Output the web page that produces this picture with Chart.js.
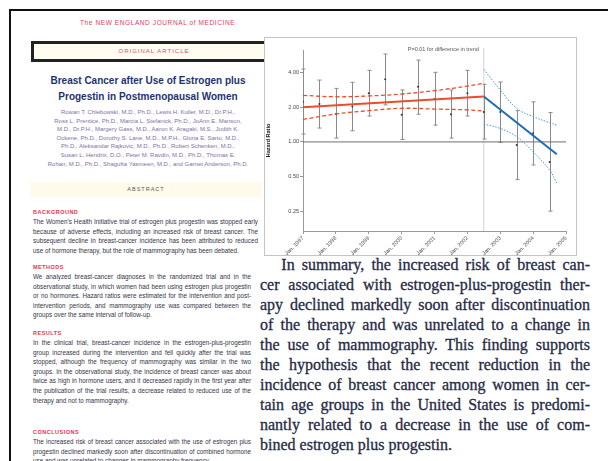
<!DOCTYPE html>
<html>
<head>
<meta charset="utf-8">
<script src="https://cdn.jsdelivr.net/npm/chart.js@4/dist/chart.umd.min.js"></script>
<style>
body { margin: 0; width: 608px; height: 461px; background: #fff; position: relative; overflow: hidden; font-family: "Liberation Sans", sans-serif; }
#page { position: absolute; left: 9px; top: 9px; width: 620px; height: 470px; border-left: 2px solid #111; border-top: 2px solid #111; }
#masthead { position: absolute; left: 80px; top: 19px; font-size: 6.5px; color: #e0405a; letter-spacing: 0.6px; }
#banner { position: absolute; left: 31px; top: 41px; width: 240px; height: 15px; border: 3px solid #222; background: #fffdf0; font-size: 6px; color: #e04a7a; text-align: center; line-height: 15px; letter-spacing: 1px; }
#title { position: absolute; left: 33px; top: 73px; width: 230px; text-align: center; font-size: 10px; font-weight: bold; color: #1d3370; line-height: 16px; }
#authors { position: absolute; left: 33px; top: 108px; width: 230px; text-align: center; font-size: 6px; color: #7f70a4; line-height: 8.6px; }
#band { position: absolute; left: 30px; top: 182px; width: 232px; height: 15px; background: #fffbea; font-size: 5.5px; color: #555; text-align: center; line-height: 15px; letter-spacing: 1px; }
.sec { position: absolute; left: 33px; width: 218px; font-size: 6.3px; line-height: 9.6px; color: #343446; text-align: justify; }
.sec b { display: block; color: #ee2f4a; font-size: 5.5px; letter-spacing: 0.5px; line-height: 9px; }
#frame { position: absolute; left: 264px; top: 37px; width: 311px; height: 217px; border: 1px solid #c4c4c4; background: #fff; }
#para { position: absolute; left: 260px; top: 255px; width: 330px; font-family: "Liberation Serif", serif; font-size: 16px; line-height: 20px; color: #262a44; -webkit-text-stroke: 0.3px #262a44; }
#para div { text-align: justify; text-align-last: justify; white-space: nowrap; }
#para div.last { text-align-last: left; }
</style>
</head>
<body>
<div id="page"></div>
<div id="masthead">The NEW ENGLAND JOURNAL of MEDICINE</div>
<div id="banner">ORIGINAL ARTICLE</div>
<div id="title">Breast Cancer after Use of Estrogen plus<br>Progestin in Postmenopausal Women</div>
<div id="authors">Rowan T. Chlebowski, M.D., Ph.D., Lewis H. Kuller, M.D., Dr.P.H.,<br>Ross L. Prentice, Ph.D., Marcia L. Stefanick, Ph.D., JoAnn E. Manson,<br>M.D., Dr.P.H., Margery Gass, M.D., Aaron K. Aragaki, M.S., Judith K.<br>Ockene, Ph.D., Dorothy S. Lane, M.D., M.P.H., Gloria E. Sarto, M.D.,<br>Ph.D., Aleksandar Rajkovic, M.D., Ph.D., Robert Schenken, M.D.,<br>Susan L. Hendrix, D.O., Peter M. Ravdin, M.D., Ph.D., Thomas E.<br>Rohan, M.D., Ph.D., Shagufta Yasmeen, M.D., and Garnet Anderson, Ph.D.</div>
<div id="band">ABSTRACT</div>
<div class="sec" style="top:208px;width:225px"><b>BACKGROUND</b>The Women's Health Initiative trial of estrogen plus progestin was stopped early because of adverse effects, including an increased risk of breast cancer. The subsequent decline in breast-cancer incidence has been attributed to reduced use of hormone therapy, but the role of mammography has been debated.</div>
<div class="sec" style="top:263px"><b>METHODS</b>We analyzed breast-cancer diagnoses in the randomized trial and in the observational study, in which women had been using estrogen plus progestin or no hormones. Hazard ratios were estimated for the intervention and post-intervention periods, and mammography use was compared between the groups over the same interval of follow-up.</div>
<div class="sec" style="top:329px"><b>RESULTS</b>In the clinical trial, breast-cancer incidence in the estrogen-plus-progestin group increased during the intervention and fell quickly after the trial was stopped, although the frequency of mammography was similar in the two groups. In the observational study, the incidence of breast cancer was about twice as high in hormone users, and it decreased rapidly in the first year after the publication of the trial results, a decrease related to reduced use of the therapy and not to mammography.</div>
<div class="sec" style="top:428px"><b>CONCLUSIONS</b>The increased risk of breast cancer associated with the use of estrogen plus progestin declined markedly soon after discontinuation of combined hormone use and was unrelated to changes in mammography frequency.</div>

<div id="frame"><canvas id="hr" width="311" height="217"></canvas></div>

<div id="para">
<div>&nbsp;&nbsp;&nbsp;In summary, the increased risk of breast can-</div>
<div>cer associated with estrogen-plus-progestin ther-</div>
<div>apy declined markedly soon after discontinuation</div>
<div>of the therapy and was unrelated to a change in</div>
<div>the use of mammography. This finding supports</div>
<div>the hypothesis that the recent reduction in the</div>
<div>incidence of breast cancer among women in cer-</div>
<div>tain age groups in the United States is predomi-</div>
<div>nantly related to a decrease in the use of com-</div>
<div class="last">bined estrogen plus progestin.</div>
</div>

<script>
// half-year time points with hazard ratio and 95% CI
const periods = [1997, 1997.5, 1998, 1998.5, 1999, 1999.5, 2000, 2000.5, 2001, 2001.5, 2002, 2002.5, 2003, 2003.5, 2004, 2004.5];
const hazard = [2.24, 2.14, 1.75, 2.03, 2.65, 3.50, 1.72, 3.02, 2.36, 1.74, 2.65, 1.82, 1.82, 0.94, 1.19, 0.67];
const ciLow = [1.17, 1.32, 1.08, 1.25, 1.68, 2.10, 1.05, 1.74, 1.40, 1.08, 1.68, 1.06, 0.99, 0.47, 0.63, 0.25];
const ciHigh = [4.30, 3.45, 2.92, 3.30, 4.19, 5.81, 2.83, 5.15, 4.03, 2.83, 4.19, 3.17, 3.32, 1.87, 2.23, 1.80];

// fitted trend before the trial stopped (red) and after (blue)
const preYears = [1997, 2002.5];
const preTrend = [2.00, 2.48];
const preBandYears = [1997, 1998, 1999, 2000, 2001, 2002, 2002.5];
const preUpper = [2.54, 2.47, 2.51, 2.61, 2.79, 3.06, 3.23];
const preLower = [1.57, 1.75, 1.87, 1.96, 1.93, 1.90, 1.86];
const postYears = [2002.5, 2004.72];
const postTrend = [2.48, 0.78];
const postBandYears = [2002.5, 2003, 2003.5, 2004, 2004.5, 2004.72];
const postUpper = [4.28, 2.83, 1.96, 1.66, 1.47, 1.40];
const postLower = [1.43, 1.31, 1.11, 0.82, 0.57, 0.44];

const yTicks = [0.25, 0.5, 1, 2, 4];
const stopYear = 2002.5;
const note = "P=0.01 for difference in trend";

const pts = (xs, ys) => xs.map((x, i) => ({ x: x, y: ys[i] }));

const RED = "#ef4a2a";
const BLUE = "#1c6cb4";
const LIGHTBLUE = "#3f9ad6";

// draws the error bars, the stop line and the note
const extras = {
    id: "extras",
    beforeDatasetsDraw(chart) {
        const ctx = chart.ctx;
        const xs = chart.scales.x, ys = chart.scales.y;
        const area = chart.chartArea;
        ctx.save();
        // vertical line where the trial stopped
        const sx = xs.getPixelForValue(stopYear);
        ctx.strokeStyle = "#d2d2d2";
        ctx.lineWidth = 1;
        ctx.beginPath();
        ctx.moveTo(sx, area.top - 2);
        ctx.lineTo(sx, area.bottom);
        ctx.stroke();
        // error bars
        ctx.strokeStyle = "#8a8a8a";
        ctx.lineWidth = 1;
        periods.forEach((p, i) => {
            const x = Math.round(xs.getPixelForValue(p)) + 0.5;
            const y1 = ys.getPixelForValue(ciLow[i]);
            const y2 = ys.getPixelForValue(ciHigh[i]);
            ctx.beginPath();
            ctx.moveTo(x, y1); ctx.lineTo(x, y2);
            ctx.moveTo(x - 2, y1); ctx.lineTo(x + 2, y1);
            ctx.moveTo(x - 2, y2); ctx.lineTo(x + 2, y2);
            ctx.stroke();
        });
        // note
        ctx.fillStyle = "#555";
        ctx.font = "5.5px 'Liberation Sans', sans-serif";
        ctx.textAlign = "right";
        ctx.textBaseline = "middle";
        ctx.fillText(note, sx - 5, area.top - 1);
        ctx.restore();
    }
};

new Chart(document.getElementById("hr"), {
    type: "line",
    plugins: [extras],
    data: {
        datasets: [
            { data: pts(preYears, preTrend), borderColor: RED, borderWidth: 2 },
            { data: pts(postYears, postTrend), borderColor: BLUE, borderWidth: 2 },
            { data: pts(preBandYears, preUpper), borderColor: RED, borderWidth: 1.3, borderDash: [4, 2.5], tension: 0.4 },
            { data: pts(preBandYears, preLower), borderColor: RED, borderWidth: 1.3, borderDash: [4, 2.5], tension: 0.4 },
            { data: pts(postBandYears, postUpper), borderColor: LIGHTBLUE, borderWidth: 1, borderDash: [1.5, 1.5], tension: 0.4 },
            { data: pts(postBandYears, postLower), borderColor: LIGHTBLUE, borderWidth: 1, borderDash: [1.5, 1.5], tension: 0.4 },
            { data: pts(periods, hazard), showLine: false, pointRadius: 1, pointBackgroundColor: "#333", pointBorderWidth: 0 },
            { data: pts([1997, 2005], [1, 1]), borderColor: "#707070", borderWidth: 1 }
        ]
    },
    options: {
        responsive: false,
        animation: false,
        layout: { padding: { top: 12, right: 10, left: 0, bottom: 0 } },
        elements: { point: { radius: 0 } },
        plugins: { legend: { display: false }, tooltip: { enabled: false } },
        scales: {
            x: {
                type: "linear",
                min: 1997,
                max: 2005,
                afterFit: (s) => { s.height = 24; },
                border: { color: "#9a9a9a" },
                grid: { drawOnChartArea: false, tickLength: 3, color: "#9a9a9a" },
                ticks: {
                    stepSize: 1,
                    minRotation: 45,
                    maxRotation: 45,
                    padding: 1,
                    color: "#444",
                    font: { size: 5.5 },
                    callback: (v) => "Jan. " + v
                }
            },
            y: {
                type: "logarithmic",
                min: 0.168,
                max: 6.3,
                afterFit: (s) => { s.width = 38; },
                afterBuildTicks: (s) => { s.ticks = yTicks.map((v) => ({ value: v })); },
                border: { color: "#9a9a9a" },
                grid: { drawOnChartArea: false, tickLength: 3, color: "#9a9a9a" },
                ticks: {
                    padding: 1,
                    color: "#444",
                    font: { size: 5.5 },
                    callback: (v) => Number(v).toFixed(2)
                },
                title: {
                    display: true,
                    text: "Hazard Ratio",
                    color: "#222",
                    font: { size: 5.5, weight: "bold" },
                    padding: 0
                }
            }
        }
    }
});
</script>
</body>
</html>
